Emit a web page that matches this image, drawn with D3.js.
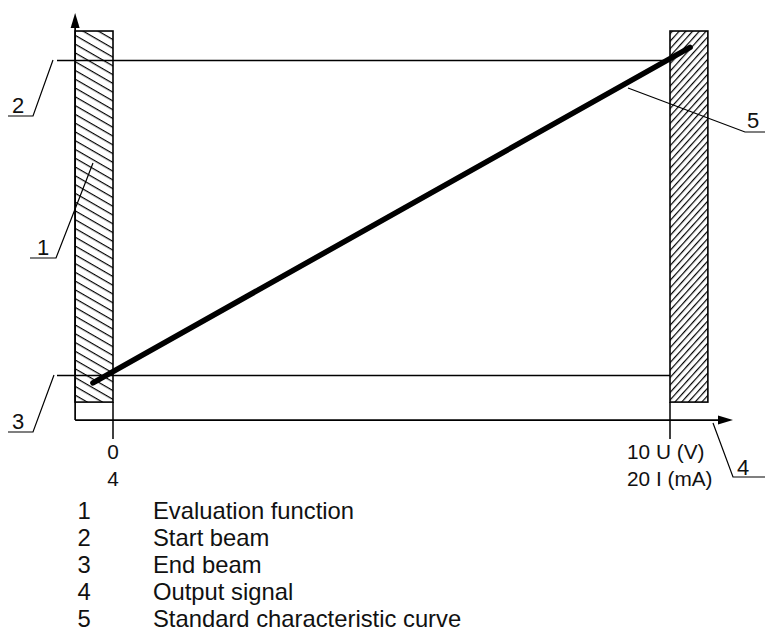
<!DOCTYPE html>
<html>
<head>
<meta charset="utf-8">
<script src="https://cdn.jsdelivr.net/npm/d3@7"></script>
<style>
  body { margin: 0; background: #fff; }
  text { font-family: "Liberation Sans", Arial, sans-serif; fill: #111; }
</style>
</head>
<body>
<script>
// output signal: U (V) on the axis, I (mA) beneath it
const tickU = [0, 10]
const tickLabelsTop = ['0', '10 U (V)']
const tickLabelsBottom = ['4', '20 I (mA)']

// beam position, 0 = end beam, 1 = start beam
const beamLevels = [1, 0]
const beamIds = ['2', '3']

// evaluation zones (hatched), in U units and beam units
const zonesU = [[-0.68, 0], [10, 10.68]]
const zoneS = [-0.086, 1.092]

// standard characteristic curve (U, beam)
const curveU = [-0.36, 10.36]
const curveS = [-0.025, 1.04]

const legendIds = ['1', '2', '3', '4', '5']
const legendTexts = ['Evaluation function', 'Start beam', 'End beam', 'Output signal', 'Standard characteristic curve']

function render() {
  const width = 765, height = 637

  const x = d3.scaleLinear().domain([0, 10]).range([113, 670])
  const y = d3.scaleLinear().domain([0, 1]).range([375, 60])

  const svg = d3.select('body')
    .append('svg')
    .attr('width', width)
    .attr('height', height)

  const defs = svg.append('defs')
  defs.append('pattern')
    .attr('id', 'hatchLeft')
    .attr('patternUnits', 'userSpaceOnUse')
    .attr('width', 10)
    .attr('height', 7.6)
    .attr('patternTransform', 'rotate(30)')
    .append('line')
    .attr('x1', 0).attr('x2', 10).attr('y1', 0.6).attr('y2', 0.6)
    .attr('stroke', '#000').attr('stroke-width', 1.2)

  defs.append('pattern')
    .attr('id', 'hatchRight')
    .attr('patternUnits', 'userSpaceOnUse')
    .attr('width', 10)
    .attr('height', 5)
    .attr('patternTransform', 'rotate(-48)')
    .append('line')
    .attr('x1', 0).attr('x2', 10).attr('y1', 0.6).attr('y2', 0.6)
    .attr('stroke', '#000').attr('stroke-width', 1.2)

  const axisY = y(-0.143)   // x axis level
  const axisX = x(-0.68)    // y axis level

  // hatched zones
  svg.append('g')
    .selectAll('rect')
    .data(zonesU)
    .enter()
    .append('rect')
    .attr('x', d => x(d[0]))
    .attr('y', y(zoneS[1]))
    .attr('width', d => x(d[1]) - x(d[0]))
    .attr('height', y(zoneS[0]) - y(zoneS[1]))
    .attr('fill', (d, i) => i === 0 ? 'url(#hatchLeft)' : 'url(#hatchRight)')
    .attr('stroke', '#000')
    .attr('stroke-width', 1.6)

  // beam lines
  svg.append('g')
    .selectAll('line')
    .data(beamLevels)
    .enter()
    .append('line')
    .attr('x1', 57)
    .attr('x2', x(10))
    .attr('y1', d => Math.round(y(d)) + 0.5)
    .attr('y2', d => Math.round(y(d)) + 0.5)
    .attr('stroke', '#000')
    .attr('stroke-width', 1.3)

  // tick lines
  svg.append('g')
    .selectAll('line')
    .data(tickU)
    .enter()
    .append('line')
    .attr('x1', d => x(d))
    .attr('x2', d => x(d))
    .attr('y1', y(zoneS[0]))
    .attr('y2', 439)
    .attr('stroke', '#000')
    .attr('stroke-width', 1.5)

  // axes
  svg.append('line')
    .attr('x1', axisX).attr('x2', 721)
    .attr('y1', axisY).attr('y2', axisY)
    .attr('stroke', '#000').attr('stroke-width', 1.7)
  svg.append('line')
    .attr('x1', axisX).attr('x2', axisX)
    .attr('y1', axisY).attr('y2', 25)
    .attr('stroke', '#000').attr('stroke-width', 1.7)
  svg.append('path')
    .attr('d', `M733,${axisY} L718,${axisY - 4.5} L718,${axisY + 4.5} Z`)
    .attr('fill', '#000')
  svg.append('path')
    .attr('d', `M${axisX},13 L${axisX - 4.5},28 L${axisX + 4.5},28 Z`)
    .attr('fill', '#000')

  // characteristic curve
  const line = d3.line()
    .x(d => x(d[0]))
    .y(d => y(d[1]))
  svg.append('path')
    .datum(curveU.map((u, i) => [u, curveS[i]]))
    .attr('d', line)
    .attr('fill', 'none')
    .attr('stroke', '#000')
    .attr('stroke-width', 5.5)
    .attr('stroke-linecap', 'round')

  // tick labels
  const tickLabels = svg.append('g')
    .attr('font-size', 20.8)
  tickU.forEach((u, i) => {
    const anchor = i === 0 ? 'middle' : 'start'
    const tx = i === 0 ? x(u) : x(u) - 43
    tickLabels.append('text')
      .attr('x', tx).attr('y', 459)
      .attr('text-anchor', anchor)
      .text(tickLabelsTop[i])
    tickLabels.append('text')
      .attr('x', tx).attr('y', 486)
      .attr('text-anchor', anchor)
      .text(tickLabelsBottom[i])
  })

  // leader lines with numbers
  const leaders = [
    { id: '1', pts: [[93, 163], [56, 258], [30, 258]], tx: 37, ty: 255 },
    { id: beamIds[0], pts: [[53, y(beamLevels[0])], [33, 116], [8, 116]], tx: 12, ty: 113 },
    { id: beamIds[1], pts: [[54, y(beamLevels[1])], [33, 432], [8, 432]], tx: 12, ty: 429 },
    { id: '4', pts: [[713, axisY + 3], [733, 477], [765, 477]], tx: 737, ty: 475 },
    { id: '5', pts: [[628, 88], [745, 132], [765, 132]], tx: 747, ty: 128 }
  ]
  const lg = svg.append('g')
  lg.selectAll('path')
    .data(leaders)
    .enter()
    .append('path')
    .attr('d', d => d3.line()(d.pts))
    .attr('fill', 'none')
    .attr('stroke', '#000')
    .attr('stroke-width', 1.2)
  lg.selectAll('text')
    .data(leaders)
    .enter()
    .append('text')
    .attr('x', d => d.tx)
    .attr('y', d => d.ty)
    .attr('font-size', 22)
    .text(d => d.id)

  // legend
  const legend = svg.append('g')
    .attr('font-size', 23.8)
  legend.selectAll('text.num')
    .data(legendIds)
    .enter()
    .append('text')
    .attr('class', 'num')
    .attr('x', 84)
    .attr('y', (d, i) => 519 + i * 27)
    .attr('text-anchor', 'middle')
    .text(d => d)
  legend.selectAll('text.lbl')
    .data(legendTexts)
    .enter()
    .append('text')
    .attr('class', 'lbl')
    .attr('x', 153)
    .attr('y', (d, i) => 519 + i * 27)
    .text(d => d)
}

render()
</script>
</body>
</html>
